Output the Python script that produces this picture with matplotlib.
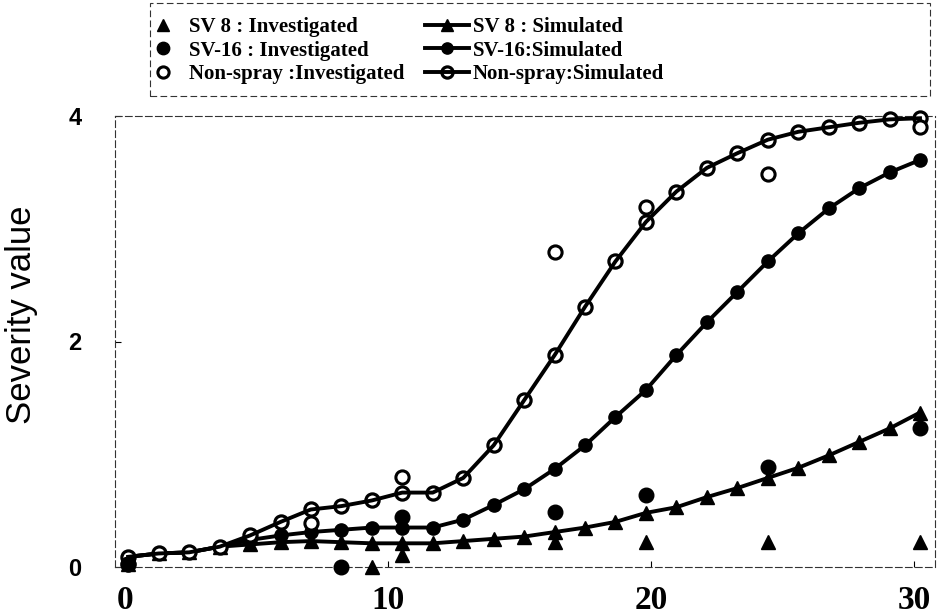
import matplotlib.pyplot as plt
from matplotlib.patches import Rectangle

# simulated series (days, severity)
sim_x = [0.10, 1.26, 2.42, 3.58, 4.74, 5.90, 7.05, 8.21, 9.37, 10.53, 11.69, 12.85, 14.01,
         15.17, 16.33, 17.49, 18.64, 19.80, 20.96, 22.12, 23.28, 24.44, 25.60, 26.76,
         27.92, 29.08, 30.23]
sv8_sim = [0.09, 0.12, 0.13, 0.18, 0.20, 0.22, 0.23, 0.22, 0.21, 0.21, 0.21, 0.23, 0.25,
           0.27, 0.31, 0.35, 0.40, 0.48, 0.53, 0.62, 0.70, 0.79, 0.88, 0.99, 1.11, 1.23, 1.37]
sv16_sim = [0.09, 0.12, 0.13, 0.18, 0.24, 0.28, 0.31, 0.33, 0.35, 0.35, 0.35, 0.42, 0.55,
            0.69, 0.87, 1.08, 1.33, 1.57, 1.88, 2.17, 2.44, 2.71, 2.96, 3.18, 3.36, 3.50, 3.61]
nonspray_sim = [0.09, 0.12, 0.13, 0.18, 0.28, 0.40, 0.51, 0.54, 0.59, 0.66, 0.66, 0.79, 1.08,
                1.48, 1.88, 2.31, 2.71, 3.06, 3.33, 3.54, 3.67, 3.79, 3.86, 3.90, 3.94, 3.97, 3.98]

# investigated (observed) points
sv8_obs_x = [0.10, 9.37, 10.53, 16.33, 19.80, 24.44, 30.23]
sv8_obs = [0.03, 0.0, 0.11, 0.22, 0.22, 0.22, 0.22]
sv16_obs_x = [0.10, 8.21, 10.53, 16.33, 19.80, 24.44, 30.23]
sv16_obs = [0.03, 0.0, 0.44, 0.49, 0.64, 0.89, 1.23]
nonspray_obs_x = [0.10, 7.05, 10.53, 16.33, 19.80, 24.44, 30.23]
nonspray_obs = [0.03, 0.39, 0.80, 2.79, 3.19, 3.49, 3.90]

xticks = [0, 10, 20, 30]
yticks = [0, 2, 4]

fig = plt.figure(figsize=(9.39, 6.16), dpi=100)
ax = fig.add_axes([115 / 939, 1 - 567 / 616, 820 / 939, 451 / 616])

lw = 2.8
ms_sim = 9.5
ms_obs = 10.5

# investigated
h3, = ax.plot(nonspray_obs_x, nonspray_obs, ls='none', marker='o', ms=ms_obs - 1, mfc='white',
              mec='black', mew=2.2, zorder=3.8, clip_on=False)
h1, = ax.plot(sv8_obs_x, sv8_obs, ls='none', marker='^', ms=ms_obs, color='black', zorder=4,
              clip_on=False)
h2, = ax.plot(sv16_obs_x, sv16_obs, ls='none', marker='o', ms=ms_obs, color='black', zorder=4,
              clip_on=False)

# simulated
h4, = ax.plot(sim_x, sv8_sim, '-^', color='black', lw=lw, ms=ms_sim, zorder=3)
h5, = ax.plot(sim_x, sv16_sim, '-o', color='black', lw=lw, ms=ms_sim, zorder=3)
h6m, = ax.plot(sim_x, nonspray_sim, ls='none', marker='o', ms=ms_sim, mfc='white', mec='black',
               mew=2.3, zorder=3, clip_on=False)
h6l, = ax.plot(sim_x, nonspray_sim, '-', color='black', lw=lw, zorder=3.5)

ax.set_xlim(-0.4, 30.8)
ax.set_ylim(0, 4)
ax.set_xticks(xticks)
ax.set_yticks(yticks)
ax.tick_params(direction='in', length=4, width=0.8)
ax.tick_params(axis='x', pad=13, labelsize=24)
ax.tick_params(axis='y', pad=24, labelsize=17)
for lbl in ax.get_xticklabels():
    lbl.set_fontfamily('Liberation Serif')
    lbl.set_fontweight('bold')
for lbl in ax.get_yticklabels():
    lbl.set_fontfamily('Liberation Sans')
    lbl.set_fontweight('bold')

ax.set_ylabel('Severity value', fontsize=25, fontfamily='Liberation Sans')
ax.yaxis.set_label_coords(-0.094, 0.56)

for s in ax.spines.values():
    s.set_linestyle((0, (6, 3)))
    s.set_linewidth(0.8)
    s.set_color('#333333')

# legend with dashed box
fig.patches.append(Rectangle((150 / 939, 1 - 96 / 616), 780 / 939, 93 / 616,
                             transform=fig.transFigure, fill=False, ls=(0, (6, 3)),
                             lw=0.8, ec='#333333'))
handles = [h1, h2, h3, h4, h5, (h6m, h6l)]
labels = ['SV 8 : Investigated', 'SV-16 : Investigated', 'Non-spray :Investigated',
          'SV 8 : Simulated', 'SV-16:Simulated', 'Non-spray:Simulated']
leg = fig.legend(handles, labels, ncol=2, loc='upper left',
                 bbox_to_anchor=(141 / 939, 1 - 17 / 616), frameon=False,
                 prop={'family': 'Liberation Serif', 'weight': 'bold', 'size': 15},
                 handlelength=2.1, handletextpad=0.2, columnspacing=1.0,
                 labelspacing=0.17, borderpad=0, borderaxespad=0, markerscale=0.85)

fig.savefig('out.png', dpi=100)
